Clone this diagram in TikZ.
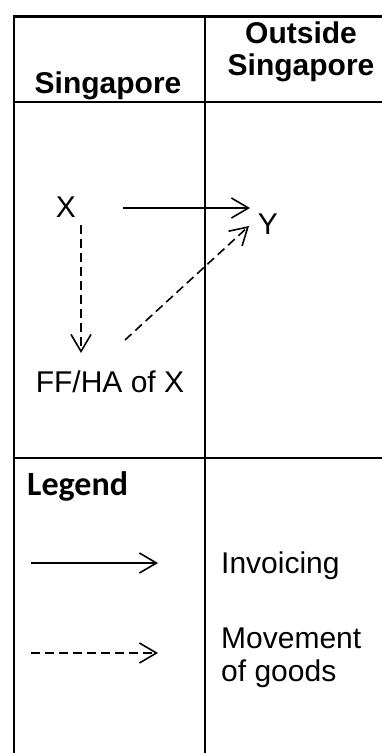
\documentclass[tikz,border=0pt]{standalone}
\usepackage{fontspec}
\setmainfont{Liberation Sans}
\newfontfamily\calib{Carlito}
\usetikzlibrary{arrows.meta,calc}
\begin{document}
\begin{tikzpicture}[x=1pt,y=-1pt,
  grid/.style={line width=2.6pt},
  arr/.style={line width=1.6pt,-{Straight Barb[length=17pt,width=20pt]}},
  dsh/.style={arr,dash pattern=on 9pt off 5pt},
  txt/.style={inner sep=0pt,font=\fontsize{30}{32}\selectfont},
  hdr/.style={inner sep=0pt,font=\fontsize{30}{32}\selectfont\bfseries},
  leg/.style={inner sep=0pt,font=\calib\fontsize{34}{36}\selectfont\bfseries}]
\useasboundingbox (0,0) rectangle (382,753);
% table
\draw[grid] (14,753) -- (14,16.5) -- (382,16.5);
\draw[grid] (205,16.5) -- (205,753);
\draw[grid] (14,102) -- (382,102);
\draw[grid] (14,458) -- (382,458);
% header
\node[hdr,anchor=base] (hsg) at (108,93) {Singapore};
\node[hdr,anchor=base] (hout1) at (301,43) {Outside};
\node[hdr,anchor=base] (hout2) at (301,75) {Singapore};
% diagram
\node[txt,anchor=base] (X) at (66,217) {X};
\node[txt,anchor=base] (Y) at (268,234) {Y};
\node[txt,anchor=base] (FF) at (110,392) {FF/HA of X};
\draw[arr] ($(X.base)+(57,-9)$) -- ($(Y.base)+(-18,-26)$);
\draw[dsh] ($(X.base)+(15,8)$) -- ($(FF.base)+(-29,-39)$);
\draw[dsh] ($(FF.base)+(15,-52)$) -- ($(Y.base)+(-19,-8)$);
% legend
\node[leg,anchor=base west] (lg) at (27,495) {Legend};
\coordinate (s1) at (31,563);
\coordinate (e1) at (158,563);
\coordinate (s2) at (31,653);
\coordinate (e2) at (158,653);
\draw[arr] (s1) -- (e1);
\draw[dsh] (s2) -- (e2);
\node[txt,anchor=base west] (inv) at (221,573) {Invoicing};
\node[txt,anchor=base west] (mv1) at (221,648) {Movement};
\node[txt,anchor=base west] (mv2) at (221,681) {of goods};
\end{tikzpicture}
\end{document}
